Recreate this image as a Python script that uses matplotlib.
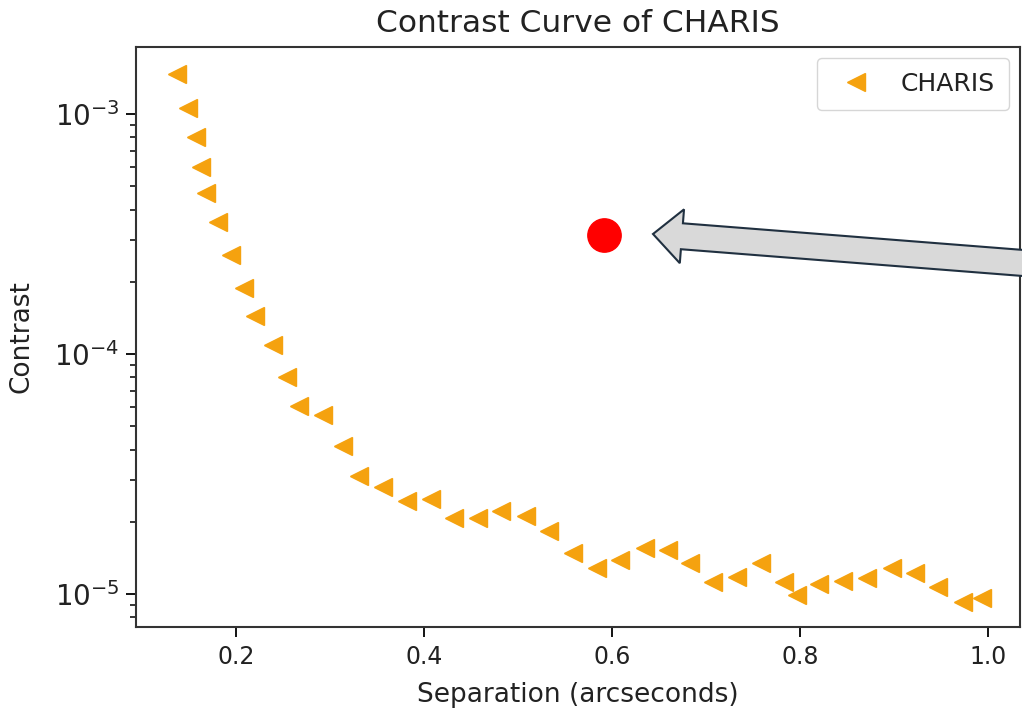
import matplotlib
matplotlib.use("Agg")
import matplotlib.pyplot as plt
from matplotlib.patches import FancyArrow
from matplotlib.transforms import Affine2D

# Data
separation = [0.137, 0.149, 0.157, 0.163, 0.168, 0.181, 0.195, 0.209, 0.220, 0.239,
              0.254, 0.267, 0.292, 0.314, 0.331, 0.356, 0.382, 0.407, 0.432, 0.457,
              0.482, 0.509, 0.533, 0.559, 0.584, 0.609, 0.635, 0.660, 0.683, 0.707,
              0.733, 0.759, 0.783, 0.797, 0.820, 0.846, 0.871, 0.898, 0.922, 0.947,
              0.973, 0.994]
contrast = [1.47e-3, 1.06e-3, 8.0e-4, 6.0e-4, 4.7e-4, 3.55e-4, 2.58e-4, 1.88e-4, 1.44e-4, 1.09e-4,
            8.0e-5, 6.07e-5, 5.6e-5, 4.14e-5, 3.1e-5, 2.79e-5, 2.44e-5, 2.49e-5, 2.07e-5, 2.07e-5,
            2.22e-5, 2.11e-5, 1.83e-5, 1.48e-5, 1.28e-5, 1.39e-5, 1.55e-5, 1.52e-5, 1.35e-5, 1.12e-5,
            1.18e-5, 1.35e-5, 1.12e-5, 9.9e-6, 1.10e-5, 1.13e-5, 1.17e-5, 1.28e-5, 1.22e-5, 1.07e-5,
            9.3e-6, 9.6e-6]
highlight_sep = [0.5915]
highlight_contrast = [3.13e-4]

W, H = 1022, 713
fig = plt.figure(figsize=(W / 100, H / 100), dpi=100)
ax = fig.add_axes([136 / W, 1 - 627 / H, (1020 - 136) / W, (627 - 47) / H])

ax.plot(separation, contrast, linestyle="none", marker="<", markersize=13.5,
        color="#f5a20f", label="CHARIS")
ax.plot(highlight_sep, highlight_contrast, linestyle="none", marker="o",
        markersize=24, color="red")

ax.set_yscale("log")
ax.set_xlim(0.0936, 1.034)
ax.set_ylim(10 ** -5.1375, 10 ** -2.72)
ax.set_xticks([0.2, 0.4, 0.6, 0.8, 1.0])

ax.set_title("Contrast Curve of CHARIS", fontsize=22.5, pad=11, color="#222222")
ax.set_xlabel("Separation (arcseconds)", fontsize=19, labelpad=9, color="#222222")
ax.set_ylabel("Contrast", fontsize=19, labelpad=14, color="#222222")
ax.tick_params(axis="x", which="major", labelsize=17, length=7, width=1.3, pad=6,
               labelcolor="#222222")
ax.tick_params(axis="y", which="major", labelsize=20, length=7, width=1.3, pad=5,
               labelcolor="#222222")
ax.tick_params(axis="both", which="minor", length=4, width=1.1)
for s in ax.spines.values():
    s.set_linewidth(1.5)
    s.set_color("#333333")

leg = ax.legend(loc="upper right", fontsize=18, borderpad=0.55, borderaxespad=0.45)
for t in leg.get_texts():
    t.set_color("#222222")

# Annotation arrow (pixel coordinates, y down)
pix = Affine2D().scale(1 / W, -1 / H).translate(0, 1) + fig.transFigure
arrow = FancyArrow(1100, 269, -447, -35, width=26, head_width=54, head_length=29,
                   length_includes_head=True, facecolor="#d9d9d9",
                   edgecolor="#203040", linewidth=1.5, transform=pix, clip_on=False)
fig.add_artist(arrow)

fig.savefig("out.png", dpi=100)
